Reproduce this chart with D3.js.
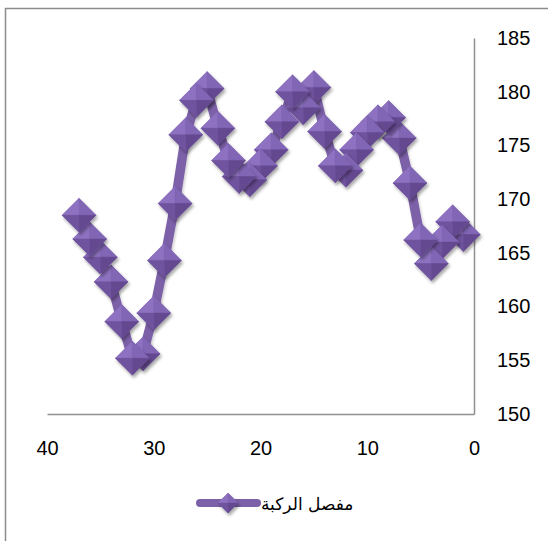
<!DOCTYPE html>
<html>
<head>
<meta charset="utf-8">
<script src="https://cdn.jsdelivr.net/npm/d3@7"></script>
<style>
  html, body { margin: 0; padding: 0; background: #fff; }
  svg { display: block; }
</style>
</head>
<body>
<svg id="chart" width="548" height="541"></svg>
<script>
// Knee joint angle series (x = frame index, y = angle in degrees)
const frames = [1, 2, 3, 4, 5, 6, 7, 8, 9, 10, 11, 12, 13, 14, 15, 16, 17, 18, 19,
                20, 21, 22, 23, 24, 25, 26, 27, 28, 29, 30, 31, 32, 33, 34, 35, 36, 37];
const kneeAngle = [166.7, 167.9, 166.0, 164.0, 166.2, 171.5, 175.7, 177.6, 177.2, 176.2,
                   174.6, 172.7, 173.1, 176.3, 180.4, 178.5, 180.0, 177.2, 174.6, 173.1,
                   171.8, 172.1, 173.6, 176.6, 180.3, 179.2, 176.0, 169.6, 164.3, 159.4,
                   155.6, 155.2, 158.6, 162.3, 164.6, 166.3, 168.5];
const xTicks = [40, 30, 20, 10, 0];
const yTicks = [150, 155, 160, 165, 170, 175, 180, 185];
const seriesName = "مفصل الركبة";

const points = frames.map((f, i) => ({ x: f, y: kneeAngle[i] }));

const svg = d3.select("#chart");
const defs = svg.append("defs");

// soft drop shadow used by the markers and the line
const shadow = defs.append("filter").attr("id", "shadow")
  .attr("x", "-50%").attr("y", "-50%").attr("width", "200%").attr("height", "200%");
shadow.append("feDropShadow").attr("dx", 1.5).attr("dy", 2.5).attr("stdDeviation", 1.6)
  .attr("flood-color", "#000").attr("flood-opacity", 0.35);

const lineShadow = defs.append("filter").attr("id", "lineShadow")
  .attr("x", "-20%").attr("y", "-20%").attr("width", "140%").attr("height", "140%");
lineShadow.append("feDropShadow").attr("dx", 1).attr("dy", 2).attr("stdDeviation", 1.5)
  .attr("flood-color", "#000").attr("flood-opacity", 0.22);

// outer chart frame
svg.append("rect")
  .attr("x", 5.5).attr("y", 8.5).attr("width", 600).attr("height", 600)
  .attr("fill", "none").attr("stroke", "#8c8c8c").attr("stroke-width", 1.5);

const x = d3.scaleLinear().domain([40, 0]).range([47, 474]);
const y = d3.scaleLinear().domain([150, 185]).range([414, 38]);

const tickFont = "'Liberation Sans', Arial, sans-serif";

// y axis on the right side
const yAxis = svg.append("g")
  .attr("transform", `translate(${x(0)},0)`)
  .call(d3.axisRight(y).tickValues(yTicks).tickSize(0).tickPadding(23).tickFormat(d3.format("d")));
yAxis.select(".domain").attr("stroke", "#909090").attr("stroke-width", 1.5);
yAxis.selectAll("text").attr("font-family", tickFont).attr("font-size", 20).attr("fill", "#000");

// x axis along the bottom
const xAxis = svg.append("g")
  .attr("transform", `translate(0,${y(150)})`)
  .call(d3.axisBottom(x).tickValues(xTicks).tickSize(0).tickPadding(27).tickFormat(d3.format("d")));
xAxis.select(".domain").attr("stroke", "#909090").attr("stroke-width", 1.5);
xAxis.selectAll("text").attr("font-family", tickFont).attr("font-size", 20).attr("fill", "#000");

// connecting line
const line = d3.line().x(d => x(d.x)).y(d => y(d.y));
svg.append("path")
  .datum(points)
  .attr("d", line)
  .attr("fill", "none")
  .attr("stroke", "#7c61a8")
  .attr("stroke-width", 9.5)
  .attr("stroke-linejoin", "round")
  .attr("filter", "url(#lineShadow)");

// bevelled diamond marker: four facets meeting at the apex
function drawDiamond(g, r) {
  const facets = [
    { pts: [[0, 0], [-r, 0], [0, -r]], fill: "#8e72c1" },  // upper-left
    { pts: [[0, 0], [0, -r], [r, 0]], fill: "#8266b6" },   // upper-right
    { pts: [[0, 0], [r, 0], [0, r]], fill: "#654890" },    // lower-right
    { pts: [[0, 0], [0, r], [-r, 0]], fill: "#70539e" }    // lower-left
  ];
  const grp = g.append("g").attr("filter", "url(#shadow)");
  grp.append("path")
    .attr("d", `M0,${-r}L${r},0L0,${r}L${-r},0Z`)
    .attr("fill", "#7559a3");
  facets.forEach(f => {
    grp.append("path")
      .attr("d", "M" + f.pts.map(p => p.join(",")).join("L") + "Z")
      .attr("fill", f.fill)
      .attr("stroke", f.fill)
      .attr("stroke-width", 0.4);
  });
}

const markers = svg.append("g");
points.forEach(p => {
  const g = markers.append("g").attr("transform", `translate(${x(p.x)},${y(p.y)})`);
  drawDiamond(g, 17);
});

// legend
const legend = svg.append("g");
legend.append("line")
  .attr("x1", 200).attr("x2", 257).attr("y1", 503).attr("y2", 503)
  .attr("stroke", "#7c61a8").attr("stroke-width", 8).attr("stroke-linecap", "round");
drawDiamond(legend.append("g").attr("transform", "translate(228,503)"), 10);
legend.append("text")
  .attr("x", 261).attr("y", 510)
  .attr("font-family", "'DejaVu Sans', sans-serif")
  .attr("font-size", 17)
  .attr("direction", "ltr")
  .attr("fill", "#000")
  .text(seriesName);
</script>
</body>
</html>
